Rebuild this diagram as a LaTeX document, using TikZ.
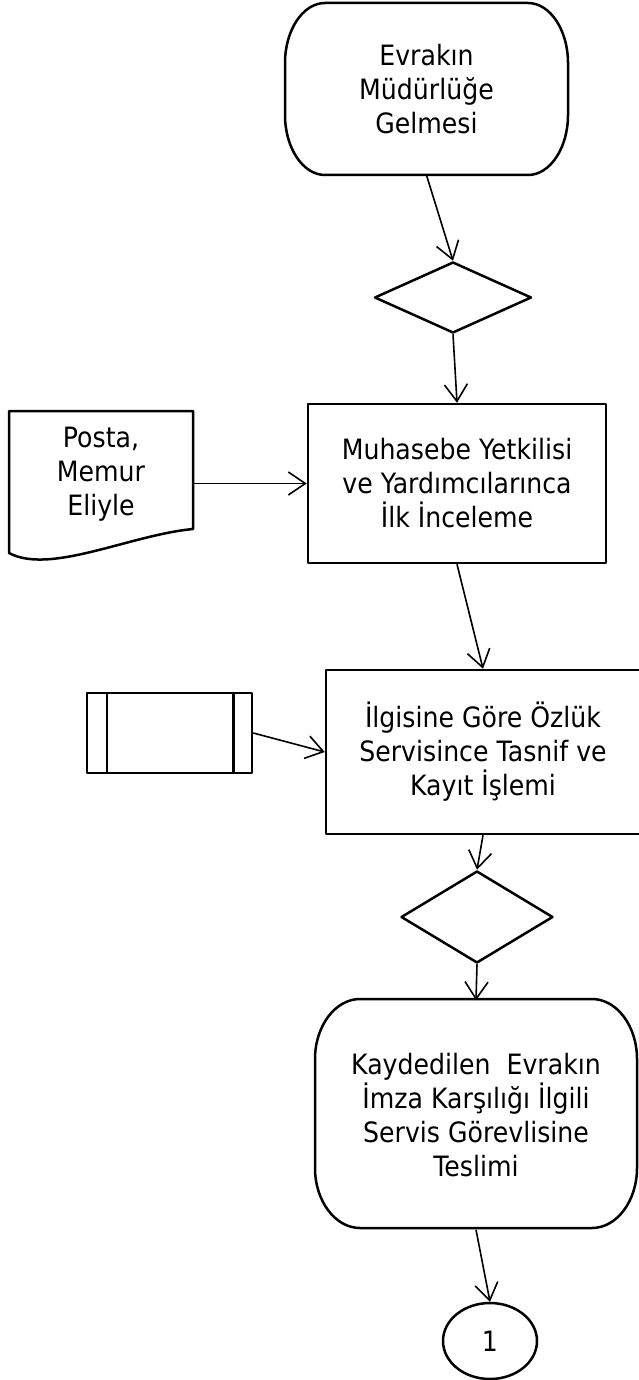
\documentclass[tikz,border=0pt]{standalone}
\usepackage{fontspec}
\setmainfont{DejaVu Sans}[FakeStretch=0.9]
\usetikzlibrary{shapes.geometric,arrows.meta,calc}
\tikzset{
  txt/.style={align=center,font=\fontsize{28}{34}\selectfont,inner sep=0pt},
  outline/.style={draw=black,line width=2.5pt,line join=round},
  boxnode/.style={txt,outline,rectangle},
  decision/.style={diamond,outline,inner sep=0pt},
  conn/.style={line width=1.6pt,-{Straight Barb[length=17pt,width=23pt,line width=1.6pt]}}
}
\newcommand\termoutline[6]{%
  \draw[outline] ({#1+#5},#2) -- ({#3-#5},#2)
    .. controls +({0.55*#5},0) and +(0,{-0.55*#6}) .. (#3,{#2+#6})
    -- (#3,{#4-#6})
    .. controls +(0,{0.55*#6}) and +({0.55*#5},0) .. ({#3-#5},#4)
    -- ({#1+#5},#4)
    .. controls +({-0.55*#5},0) and +(0,{0.55*#6}) .. (#1,{#4-#6})
    -- (#1,{#2+#6})
    .. controls +(0,{-0.55*#6}) and +({-0.55*#5},0) .. ({#1+#5},#2) -- cycle;}
\begin{document}
\begin{tikzpicture}[x=1pt,y=-1pt]
\useasboundingbox[fill=white] (0,0) rectangle (638,1380);

% terminal 1
\termoutline{285}{3}{568}{175}{40}{60}
\node[txt,minimum width=283,minimum height=172] (t1) at (426.5,89) {Evrakın\\Müdürlüğe\\Gelmesi};

% decision 1
\node[decision,minimum width=157,minimum height=71] (d1) at (453,297.5) {};

% main box 1
\node[boxnode,minimum width=298,minimum height=159] (muh) at (457,483.5)
  {Muhasebe Yetkilisi\\ve Yardımcılarınca\\İlk İnceleme};

% document
\draw[outline] (9,553) -- (9,411) -- (193,411) -- (193,529)
  .. controls (130,535) and (50,575) .. (9,553) -- cycle;
\node[txt,minimum width=184,minimum height=120] (posta) at (101,474) {Posta,\\Memur\\Eliyle};

% predefined process
\node[outline,rectangle,minimum width=165,minimum height=80] (pp) at (169.5,733) {};
\draw[outline] ($(pp.north west)+(21,0)$) -- ($(pp.south west)+(21,0)$);
\draw[outline] ($(pp.north east)+(-20,0)$) -- ($(pp.south east)+(-20,0)$);

% main box 2
\node[boxnode,minimum width=314,minimum height=164] (ilg) at (483,752)
  {İlgisine Göre Özlük\\Servisince Tasnif ve\\Kayıt İşlemi};

% decision 2
\node[decision,minimum width=152,minimum height=92] (d2) at (477,917) {};

% terminal 2
\termoutline{315}{999}{637}{1228}{45}{60}
\node[txt,minimum width=322,minimum height=229] (t2) at (476,1115)
  {Kaydedilen~ Evrakın\\İmza Karşılığı İlgili\\Servis Görevlisine\\Teslimi};

% connector
\node[ellipse,outline,txt,minimum width=94,minimum height=76] (c1) at (490,1341) {1};

% connectors
\draw[conn] (t1.south) -- (d1.north);
\draw[conn] (d1.south) -- (muh.north);
\draw[conn] (posta.east |- muh.west) -- (muh.west);
\draw[conn] (muh.south) -- (ilg.north);
\draw[conn] (pp.east) -- (ilg.west);
\draw[conn] (ilg.south) -- (d2.north);
\draw[conn] (d2.south) -- (t2.north);
\draw[conn] (t2.south) -- (c1.north);
\end{tikzpicture}
\end{document}
